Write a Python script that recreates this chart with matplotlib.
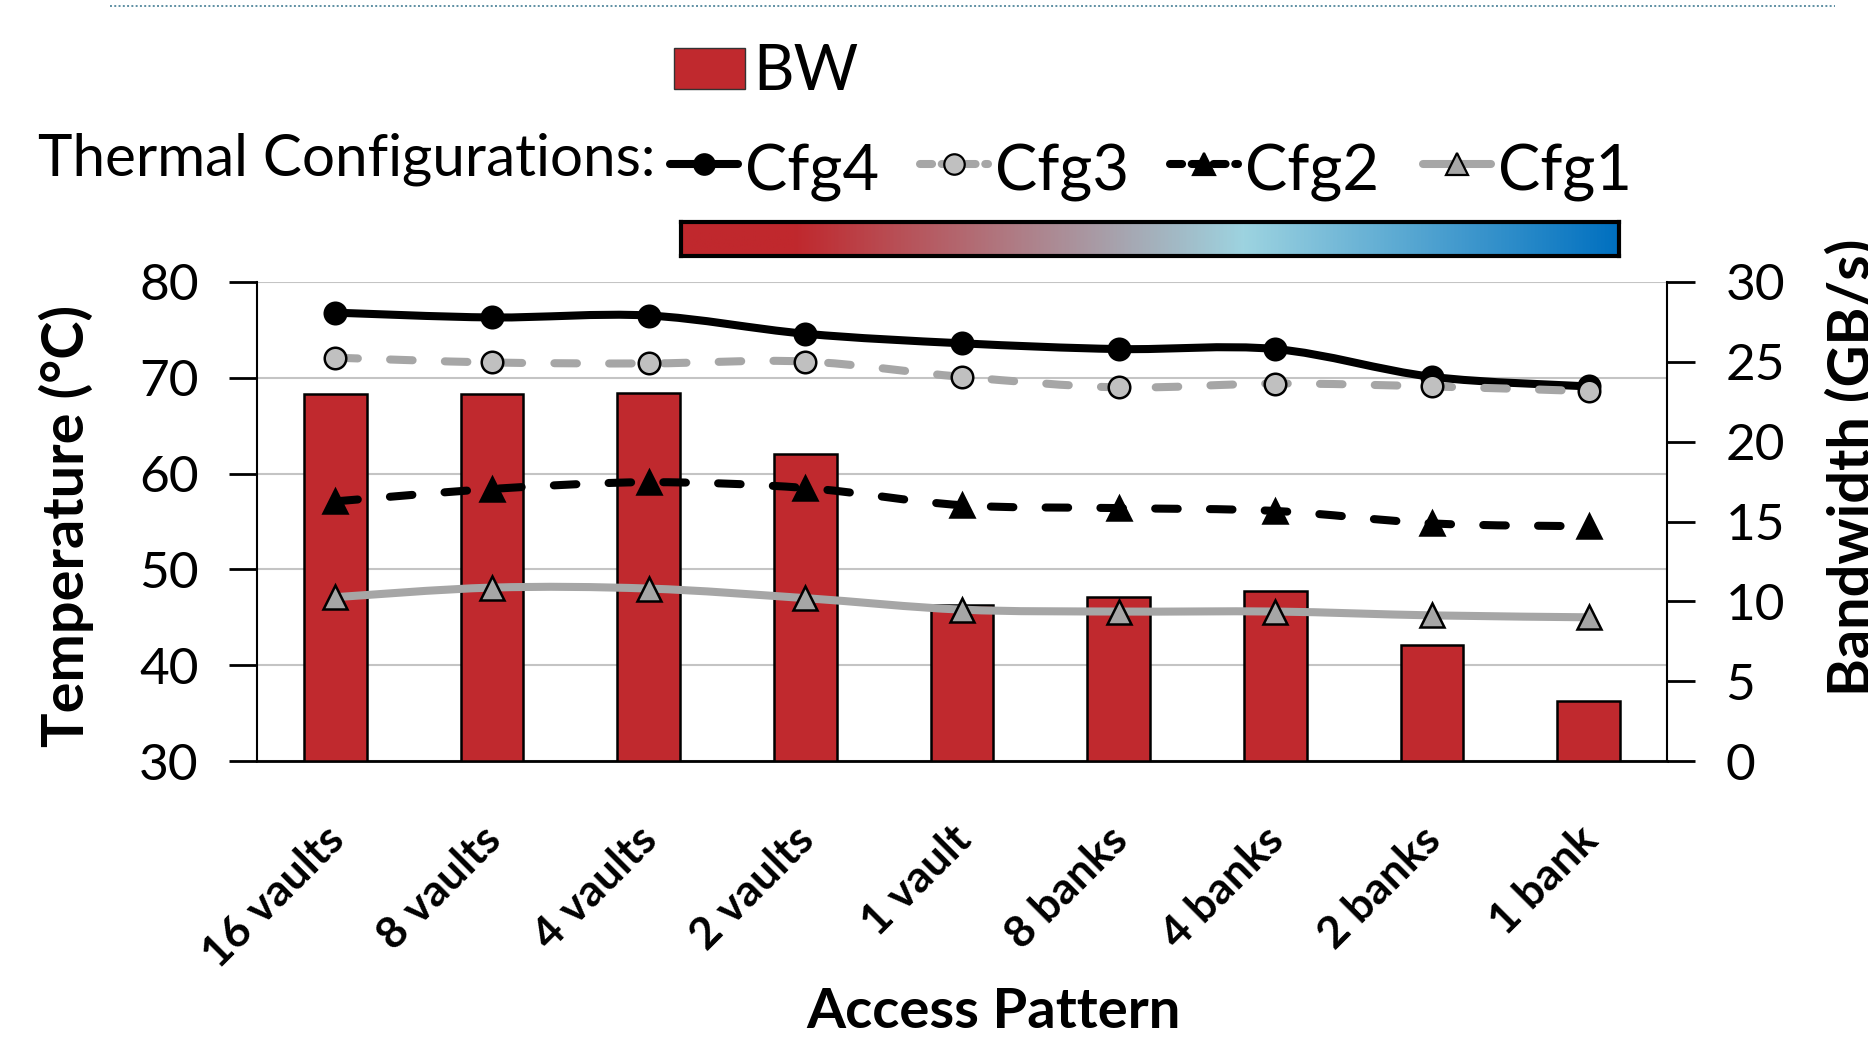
import numpy as np
import matplotlib
matplotlib.use('Agg')
import matplotlib.pyplot as plt
from matplotlib.path import Path
from matplotlib.patches import PathPatch, Rectangle
from matplotlib.lines import Line2D
from matplotlib.colors import LinearSegmentedColormap
import matplotlib.transforms as mtransforms

# ---------------- data ----------------
categories = ['16 vaults', '8 vaults', '4 vaults', '2 vaults', '1 vault',
              '8 banks', '4 banks', '2 banks', '1 bank']
bw = [22.98, 22.98, 23.04, 19.25, 9.75, 10.27, 10.67, 7.29, 3.75]
cfg4 = [76.8, 76.3, 76.5, 74.6, 73.6, 73.0, 73.0, 70.1, 69.1]
cfg3 = [72.1, 71.6, 71.5, 71.7, 70.1, 69.0, 69.4, 69.1, 68.6]
cfg2 = [57.1, 58.4, 59.1, 58.5, 56.7, 56.4, 56.1, 54.8, 54.5]
cfg1 = [47.1, 48.1, 48.0, 47.0, 45.8, 45.6, 45.6, 45.2, 45.0]
series_names = ['Cfg4', 'Cfg3', 'Cfg2', 'Cfg1']
temp_ticks = [30, 40, 50, 60, 70, 80]
bw_ticks = [0, 5, 10, 15, 20, 25, 30]

plt.rcParams['font.family'] = ['Lato', 'DejaVu Sans']

W, H = 1868, 1045
fig = plt.figure(figsize=(W / 100, H / 100), dpi=100)

def fx(px):
    return px / W

def fy(py):
    return 1 - py / H

L, R, T, B = 257, 1667, 282, 761
rect = [fx(L), fy(B), fx(R) - fx(L), fy(T) - fy(B)]

RED = '#C0292E'
GRAY = '#A6A6A6'
LW = 5.8
DASH = (0, (2.8, 4.0))

# base axes: temperature axis + grid
axg = fig.add_axes(rect, zorder=1)
x = np.arange(len(categories))
axg.set_xlim(-0.5, len(categories) - 0.5)
axg.set_ylim(30, 80)
axg.set_yticks(temp_ticks)
axg.set_yticklabels([str(t) for t in temp_ticks])
axg.yaxis.grid(True, color='#C4C4C4', lw=1.5)
axg.set_axisbelow(True)
axg.set_xticks([])
for s in ['top', 'right']:
    axg.spines[s].set_visible(False)
axg.spines['left'].set_linewidth(1.5)
axg.spines['bottom'].set_linewidth(2.0)
axg.tick_params(axis='y', length=20, width=2, pad=22, labelsize=37, direction='out')

# bandwidth bars
axb = axg.twinx()
axb.set_zorder(2)
axb.patch.set_visible(False)
axb.set_ylim(0, 30)
axb.bar(x, bw, width=0.4, color=RED, edgecolor='black', lw=1.8)
axb.set_yticks(bw_ticks)
axb.set_yticklabels([str(t) for t in bw_ticks])
for s in ['top', 'left', 'bottom']:
    axb.spines[s].set_visible(False)
axb.spines['right'].set_linewidth(1.5)
axb.tick_params(axis='y', length=20, width=2, pad=22, labelsize=37, direction='out')

# lines axes
axl = fig.add_axes(rect, sharex=axg, sharey=axg, zorder=3)
axl.patch.set_visible(False)
axl.axis('off')


def smooth_path(xs, ys):
    pts = np.column_stack([xs, ys]).astype(float)
    n = len(pts)
    verts = [pts[0]]
    codes = [Path.MOVETO]
    for i in range(n - 1):
        p0 = pts[i - 1] if i > 0 else pts[i]
        p1 = pts[i]
        p2 = pts[i + 1]
        p3 = pts[i + 2] if i + 2 < n else pts[i + 1]
        c1 = p1 + (p2 - p0) / 6.0
        c2 = p2 - (p3 - p1) / 6.0
        verts += [c1, c2, p2]
        codes += [Path.CURVE4] * 3
    return Path(verts, codes)


styles = {
    'Cfg4': dict(color='black', ls='-', marker='o', mfc='black', ms=15.5),
    'Cfg3': dict(color=GRAY, ls=DASH, marker='o', mfc='#C0C0C0', ms=15.5),
    'Cfg2': dict(color='black', ls=DASH, marker='^', mfc='black', ms=17),
    'Cfg1': dict(color=GRAY, ls='-', marker='^', mfc=GRAY, ms=17),
}
data = {'Cfg4': cfg4, 'Cfg3': cfg3, 'Cfg2': cfg2, 'Cfg1': cfg1}
z = 3
for name in series_names:
    st = styles[name]
    pp = PathPatch(smooth_path(x, data[name]), fill=False, edgecolor=st['color'],
                   lw=LW, linestyle=st['ls'], capstyle='round', joinstyle='round',
                   zorder=z)
    axl.add_patch(pp)
    axl.plot(x, data[name], ls='none', marker=st['marker'], ms=st['ms'],
             mfc=st['mfc'], mec='black', mew=1.8, zorder=z + 0.5)
    z += 1

# x category labels (rotated)
trans = mtransforms.blended_transform_factory(axg.transData, axg.transAxes)
for i, c in enumerate(categories):
    t = mtransforms.offset_copy(trans, fig=fig, x=-12, y=-58, units='dots')
    axg.text(i, 0, c, transform=t, rotation=45, rotation_mode='anchor',
             ha='right', va='top', fontsize=32, fontweight='bold')

# axis titles
fig.text(fx(994), fy(1012), 'Access Pattern', ha='center', va='center',
         fontsize=40.5, fontweight='bold')
fig.text(fx(66), fy(526), 'Temperature (°C)', rotation=90, ha='center', va='center',
         fontsize=41.5, fontweight='bold')
fig.text(fx(1826), fy(467), 'Bandwidth (GB/s)', rotation=90, ha='left', va='center',
         fontsize=41.5, fontweight='bold')

# overlay for legend / decorations in pixel coords
ov = fig.add_axes([0, 0, 1, 1], zorder=10)
ov.set_xlim(0, W)
ov.set_ylim(H, 0)
ov.axis('off')
ov.patch.set_visible(False)

ov.add_line(Line2D([110, 1835], [6, 6], color='#5E8FA3', lw=1.4, ls=(0, (1, 1.2))))

ov.add_patch(Rectangle((674, 48), 71, 41, facecolor=RED, edgecolor='#333333', lw=1.0))
ov.text(753, 90, 'BW', ha='left', va='baseline', fontsize=45)

ov.text(38, 175, 'Thermal Configurations:', ha='left', va='baseline', fontsize=42)
leg_x = [667, 917, 1167, 1420]
for name, lx in zip(series_names, leg_x):
    st = styles[name]
    ov.add_line(Line2D([lx + 3, lx + 71], [164, 164], color=st['color'], lw=LW,
                       ls='-' if st['ls'] == '-' else (0, (1.5, 1.2)),
                       solid_capstyle='round', dash_capstyle='round'))
    ov.add_line(Line2D([lx + 37], [164], ls='none', marker=st['marker'],
                       ms=st['ms'] * 0.95, mfc=st['mfc'], mec='black', mew=1.6))
    ov.text(lx + 78, 191, name, ha='left', va='baseline', fontsize=45.5)

# gradient bar
cmap = LinearSegmentedColormap.from_list(
    'grad', [(0.0, '#C0282D'), (0.12, '#C0282D'), (0.6, '#9DD3E0'), (1.0, '#0070C0')])
axc = fig.add_axes([fx(681), fy(256), fx(1619) - fx(681), fy(222) - fy(256)], zorder=10)
axc.imshow(np.linspace(0, 1, 512)[None, :], aspect='auto', cmap=cmap)
axc.set_xticks([])
axc.set_yticks([])
for s in axc.spines.values():
    s.set_linewidth(3)
    s.set_color('black')

fig.savefig('out.png', dpi=100)
